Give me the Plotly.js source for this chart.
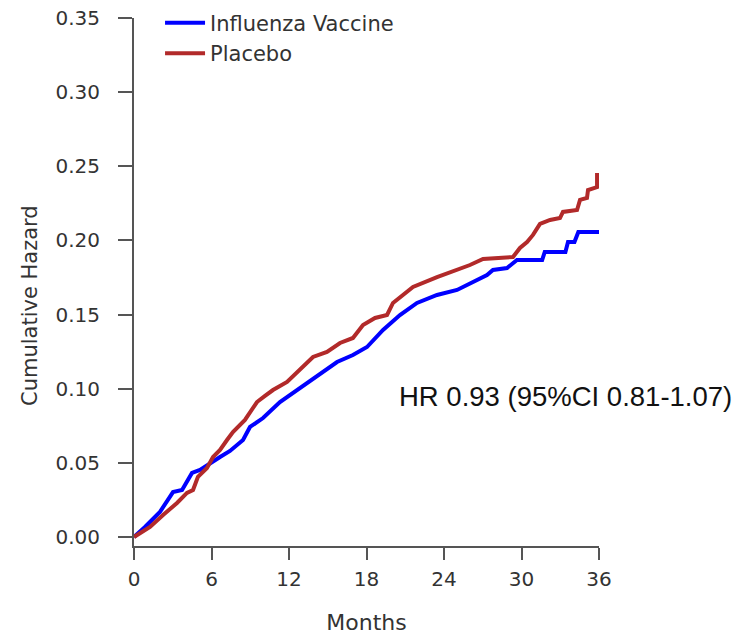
<!DOCTYPE html>
<html>
<head>
<meta charset="utf-8">
<script src="https://cdn.plot.ly/plotly-3.0.1.min.js"></script>
<style>html,body{margin:0;padding:0;background:#fff;}#chart{width:735px;height:635px;}</style>
</head>
<body>
<div id="chart"></div>
<script>
const seriesNames = ["Influenza Vaccine", "Placebo"];
const vaccineMonths = [0, 0.85, 2.01, 3.02, 3.72, 4.49, 5.11, 5.88, 6.66, 7.43, 8.44, 8.98, 9.99, 11.30, 12.62, 13.86, 15.72, 16.95, 18.04, 19.28, 20.59, 21.91, 23.46, 25.01, 26.24, 27.33, 27.79, 28.88, 29.65, 31.6, 31.8, 33.4, 33.6, 34.1, 34.4, 36];
const vaccineHazard = [0, 0.0067, 0.0169, 0.0303, 0.0317, 0.0432, 0.0452, 0.0499, 0.0539, 0.0580, 0.0654, 0.0742, 0.0802, 0.0910, 0.0991, 0.1072, 0.1180, 0.1227, 0.1281, 0.1396, 0.1497, 0.1578, 0.1632, 0.1666, 0.1720, 0.1767, 0.1801, 0.1814, 0.1868, 0.1868, 0.1922, 0.1922, 0.1989, 0.1989, 0.2057, 0.2057];
const placeboMonths = [0, 1.24, 2.25, 3.33, 4.10, 4.57, 4.95, 5.65, 6.12, 6.66, 7.20, 7.66, 8.59, 9.52, 10.14, 10.76, 11.85, 12.85, 13.86, 14.94, 15.95, 16.95, 17.73, 18.66, 19.59, 20.05, 21.60, 23.46, 25.01, 26.01, 27.02, 29.34, 29.88, 30.43, 30.89, 31.43, 32.21, 32.98, 33.21, 34.30, 34.53, 35.07, 35.15, 35.85, 35.85];
const placeboHazard = [0, 0.0067, 0.0148, 0.0229, 0.0297, 0.0317, 0.0405, 0.0465, 0.0539, 0.0587, 0.0654, 0.0708, 0.0789, 0.0910, 0.0951, 0.0991, 0.1045, 0.1126, 0.1214, 0.1248, 0.1308, 0.1342, 0.1430, 0.1477, 0.1497, 0.1578, 0.1686, 0.1753, 0.1801, 0.1834, 0.1875, 0.1888, 0.1949, 0.1989, 0.2037, 0.2111, 0.2138, 0.2151, 0.2192, 0.2205, 0.2273, 0.2286, 0.2340, 0.2360, 0.2455];
const xTicks = [0, 6, 12, 18, 24, 30, 36];
const yTicks = [0, 0.05, 0.10, 0.15, 0.20, 0.25, 0.30, 0.35];
const yTickLabels = ["0.00", "0.05", "0.10", "0.15", "0.20", "0.25", "0.30", "0.35"];
const annotationText = "HR 0.93 (95%CI 0.81-1.07)";
const xTitle = "Months";
const yTitle = "Cumulative Hazard";

const font = "DejaVu Sans, sans-serif";
const textColor = "#333333";
const axisColor = "#555555";

const traces = [
  {x: vaccineMonths, y: vaccineHazard, name: seriesNames[0], mode: "lines",
   line: {color: "#0000FF", width: 4, shape: "linear"}},
  {x: placeboMonths, y: placeboHazard, name: seriesNames[1], mode: "lines",
   line: {color: "#B22A2A", width: 4, shape: "linear"}}
];

const layout = {
  width: 735, height: 635,
  margin: {l: 134, r: 136, t: 18, b: 89, pad: 0, autoexpand: false},
  paper_bgcolor: "#ffffff", plot_bgcolor: "#ffffff",
  font: {family: font, size: 20, color: textColor},
  showlegend: true,
  legend: {x: 0.056, y: 1.029, xanchor: "left", yanchor: "top",
           font: {family: font, size: 21, color: textColor},
           itemwidth: 40,
           bgcolor: "rgba(0,0,0,0)", borderwidth: 0, tracegroupgap: 0},
  xaxis: {range: [0, 36], tickvals: xTicks, ticktext: xTicks.map(String),
          showline: true, linecolor: axisColor, linewidth: 2,
          ticks: "outside", ticklen: 12, tickwidth: 2, tickcolor: axisColor,
          showgrid: false, zeroline: false, ticklabelstandoff: 2, automargin: false,
          tickfont: {family: font, size: 20, color: textColor},
          title: {text: xTitle, font: {family: font, size: 22, color: textColor}, standoff: 25}},
  yaxis: {range: [-0.0061, 0.35], tickvals: yTicks, ticktext: yTickLabels,
          showline: true, linecolor: axisColor, linewidth: 2,
          ticks: "outside", ticklen: 14, tickwidth: 2, tickcolor: axisColor,
          showgrid: false, zeroline: false, ticklabelstandoff: 14, automargin: false,
          tickfont: {family: font, size: 20, color: textColor}},
  annotations: [
    {text: yTitle, xref: "paper", yref: "paper", x: -0.2237, y: 0.4564,
     xanchor: "center", yanchor: "middle", textangle: -90, showarrow: false,
     font: {family: font, size: 21, color: textColor}},
    {text: annotationText, xref: "paper", yref: "y", x: 0.5656, y: 0.0944,
     xanchor: "left", yanchor: "middle", showarrow: false,
     font: {family: "Liberation Sans, Arial, sans-serif", size: 27.5, color: "#111111"}}
  ]
};

Plotly.newPlot("chart", traces, layout, {displayModeBar: false, staticPlot: true});
</script>
</body>
</html>
